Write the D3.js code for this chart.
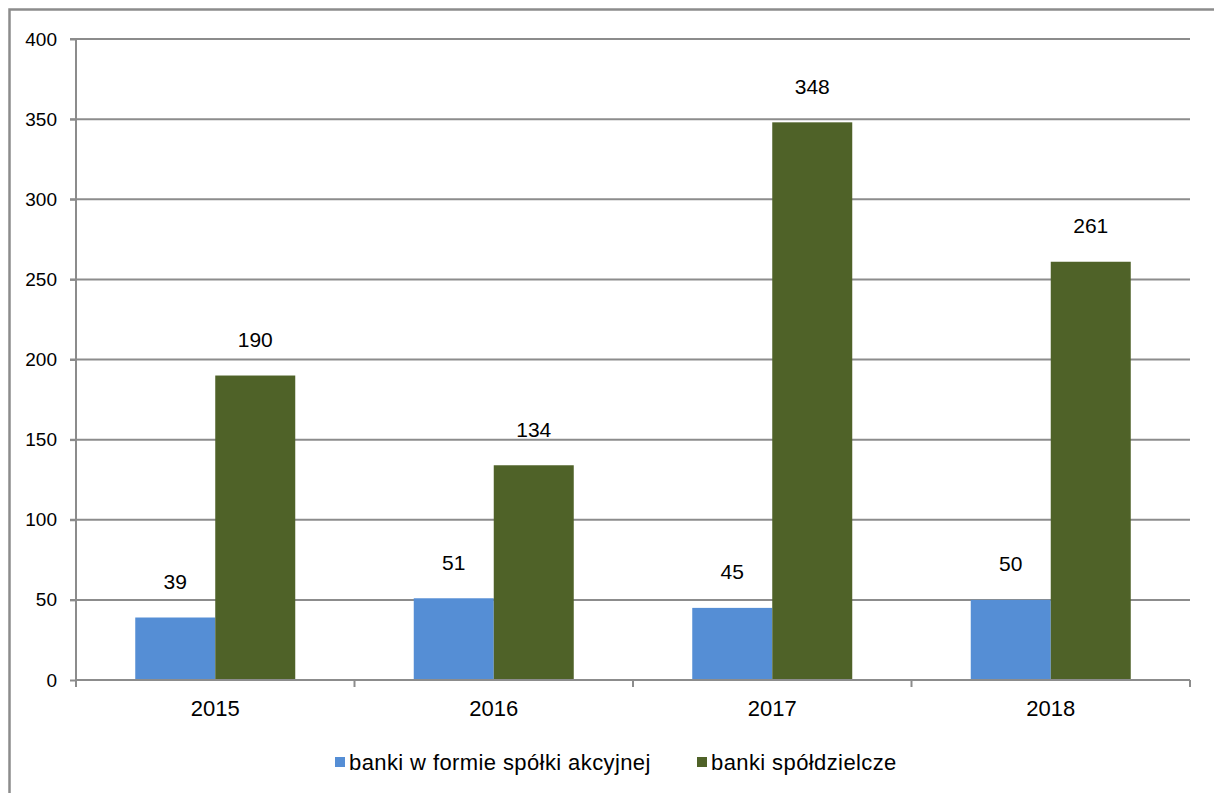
<!DOCTYPE html>
<html><head><meta charset="utf-8">
<script src="https://cdn.jsdelivr.net/npm/d3@7"></script>
<style>body{margin:0;background:#fff}svg{display:block}text{font-family:"Liberation Sans",Arial,sans-serif;fill:#000}</style>
</head><body>
<svg id="c" width="1214" height="793"></svg>
<script>
const categories = ["2015","2016","2017","2018"];
const seriesNames = ["banki w formie spółki akcyjnej","banki spółdzielcze"];
const seriesA = [39,51,45,50];
const seriesB = [190,134,348,261];
const yTicks = [0,50,100,150,200,250,300,350,400];
const colors = ["#558ED5","#4F6228"];

const svg = d3.select("#c");
svg.append("rect").attr("x",9.5).attr("y",9.5).attr("width",1220).attr("height",800)
  .attr("fill","none").attr("stroke","#8c8c8c").attr("stroke-width",2.5);

const L=76,R=1190,T=39,B=680;
const x = d3.scaleBand().domain(categories).range([L,R]);
const y = d3.scaleLinear().domain([0,400]).range([B,T]);
const barW = 80;
const x1 = d3.scaleBand().domain([0,1]).range([0,barW*2]);

// gridlines
svg.append("g").selectAll("line").data(yTicks.filter(d=>d>0)).join("line")
  .attr("x1",L-6).attr("x2",R).attr("y1",d=>y(d)).attr("y2",d=>y(d))
  .attr("stroke","#8c8c8c").attr("stroke-width",2);

// bars
const data = categories.map((c,i)=>({c, v:[seriesA[i],seriesB[i]]}));
const g = svg.append("g");
data.forEach(d=>{
  const cx = x(d.c)+x.bandwidth()/2 - barW;
  d.v.forEach((v,j)=>{
    g.append("rect").attr("x",cx+x1(j)).attr("y",y(v)).attr("width",x1.bandwidth()).attr("height",B-y(v)).attr("fill",colors[j]);
    g.append("text").attr("x",cx+x1(j)+x1.bandwidth()/2).attr("y",y(v)-36).attr("dy","0.35em")
      .attr("text-anchor","middle").attr("font-size",21).text(v);
  });
});

// y axis
const ya = svg.append("g").attr("transform",`translate(${L},0)`)
  .call(d3.axisLeft(y).tickValues(yTicks).tickSize(6).tickPadding(13));
ya.select(".domain").attr("stroke","#8c8c8c").attr("stroke-width",2).attr("d",`M0,${T}V${B}`);
ya.selectAll(".tick line").attr("stroke","#8c8c8c").attr("stroke-width",2);
ya.selectAll(".tick text").attr("font-size",19).attr("font-family","Liberation Sans, Arial, sans-serif").attr("fill","#000");

// x axis
const xa = svg.append("g").attr("transform",`translate(0,${B})`)
  .call(d3.axisBottom(x).tickSize(0).tickPadding(20));
xa.select(".domain").attr("stroke","#8c8c8c").attr("stroke-width",2).attr("d",`M${L},0H${R}`);
xa.selectAll(".tick text").attr("font-size",22).attr("font-family","Liberation Sans, Arial, sans-serif").attr("fill","#000");
const bounds = categories.map(c=>x(c)).concat([R]);
xa.selectAll(".bt").data(bounds).join("line").attr("x1",d=>d).attr("x2",d=>d).attr("y1",0).attr("y2",7)
  .attr("stroke","#8c8c8c").attr("stroke-width",2);

// legend
const leg = svg.append("g");
const legX = [335,697];
seriesNames.forEach((n,i)=>{
  leg.append("rect").attr("x",legX[i]).attr("y",757).attr("width",10).attr("height",10).attr("fill",colors[i]);
  leg.append("text").attr("x",legX[i]+14).attr("y",762).attr("dy","0.35em").attr("font-size",22)
    .attr("letter-spacing",0.4).text(n);
});
</script>
</body></html>
